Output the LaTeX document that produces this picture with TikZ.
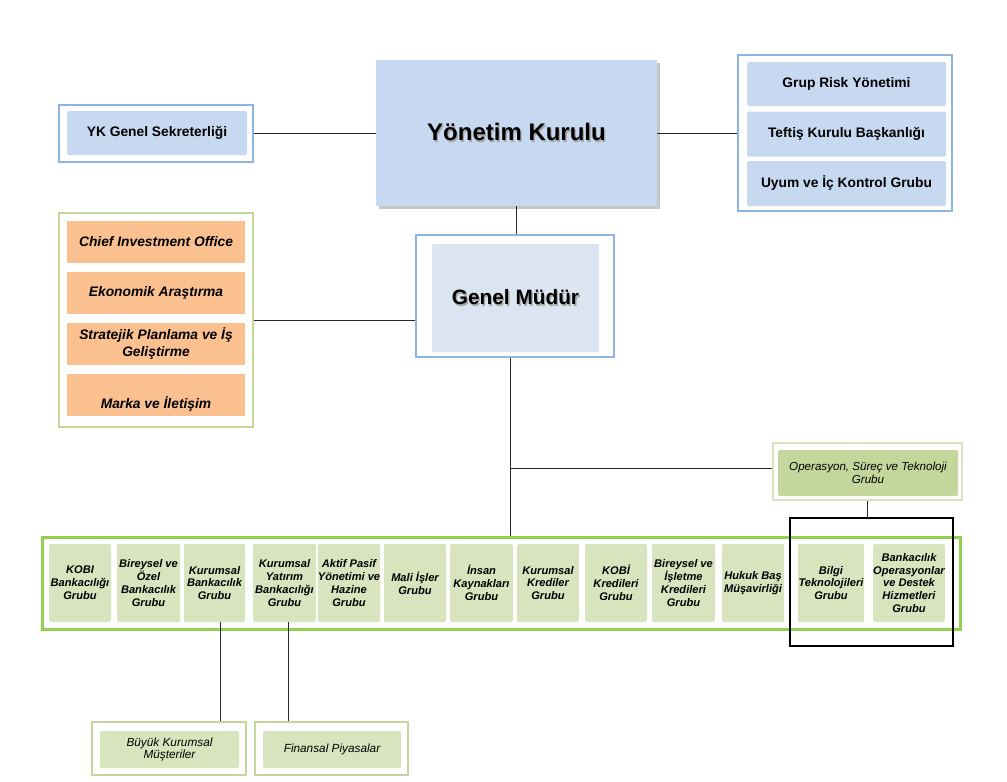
\documentclass[tikz,border=0pt]{standalone}
\usepackage{fontspec}
\setmainfont{Liberation Sans}
\usetikzlibrary{shadows}
\definecolor{bluefr}{HTML}{8DB4E2}
\definecolor{bluebx}{HTML}{C6D9F1}
\definecolor{bluelt}{HTML}{DBE5F1}
\definecolor{orng}{HTML}{FAC090}
\definecolor{grnfr}{HTML}{C3D69B}
\definecolor{grnbx}{HTML}{D7E4BD}
\definecolor{grnbig}{HTML}{92D050}
\definecolor{grnop}{HTML}{C3D69B}
\newcommand{\shadowed}[1]{\leavevmode\rlap{\kern1.3pt\raisebox{-1.3pt}{\textcolor{black!35}{#1}}}#1}
\tikzset{
  bfrm/.style={draw=bluefr, line width=2pt, fill=white, inner sep=0pt},
  gfrm/.style={draw=grnfr, line width=2.5pt, fill=white, inner sep=0pt},
  bbox/.style={fill=bluebx, rounded corners=1.5pt, inner sep=0pt, font=\fontsize{13.8}{16}\selectfont\bfseries, align=center},
  obox/.style={fill=orng, inner sep=0pt, font=\fontsize{13.8}{17}\selectfont\bfseries\itshape, align=center},
  rbox/.style={fill=grnbx, rounded corners=2pt, inner sep=0pt, minimum height=78pt, font=\fontsize{11.1}{12.9}\selectfont\bfseries\itshape, align=center},
  sbox/.style={fill=grnbx, rounded corners=2pt, inner sep=0pt, font=\fontsize{11.8}{12.5}\selectfont\itshape, align=center},
  conn/.style={draw=black!85, line width=1pt},
}
\begin{document}
\begin{tikzpicture}[x=1pt,y=-1pt]
\useasboundingbox (0,0) rectangle (1007,782);
% top level
\node[fill=bluebx, inner sep=0pt, minimum width=281pt, minimum height=146pt,
  drop shadow={shadow xshift=3pt, shadow yshift=-3pt, fill=black!50, opacity=0.45},
  font=\fontsize{24}{28}\selectfont\bfseries] (yk) at (516.5,133) {\shadowed{Yönetim Kurulu}};
% YK Genel Sekreterliği
\node[bfrm, minimum width=194pt, minimum height=57pt] (ykf) at (156,133) {};
\node[bbox, minimum width=180pt, minimum height=44pt] (ykg) at (157,133) {YK Genel Sekreterliği};
% right group
\node[bfrm, minimum width=214pt, minimum height=156pt] (rf) at (845,133) {};
\node[bbox, minimum width=199pt, minimum height=44pt] (r1) at (846.5,84) {Grup Risk Yönetimi};
\node[bbox, minimum width=199pt, minimum height=45pt] (r2) at (846.5,134) {Teftiş Kurulu Başkanlığı};
\node[bbox, minimum width=199pt, minimum height=45pt] (r3) at (846.5,183.5) {Uyum ve İç Kontrol Grubu};
% Genel Müdür
\node[bfrm, minimum width=198pt, minimum height=122pt] (gmf) at (515,296) {};
\node[fill=bluelt, rounded corners=1.5pt, inner sep=0pt, minimum width=167pt, minimum height=108pt,
  font=\fontsize{20.8}{24}\selectfont\bfseries] (gm) at (515.5,298) {\shadowed{Genel Müdür}};
% orange group
\node[gfrm, minimum width=194pt, minimum height=214pt] (of) at (156,320) {};
\node[obox, minimum width=178pt, minimum height=42pt] (o1) at (156,242) {Chief Investment Office};
\node[obox, minimum width=178pt, minimum height=42pt] (o2) at (156,293) {Ekonomik Araştırma};
\node[obox, minimum width=178pt, minimum height=42pt] (o3) at (156,344) {Stratejik Planlama ve İş\\Geliştirme};
\node[obox, minimum width=178pt, minimum height=42pt] (o4) at (156,395) {\smash{\raisebox{-13pt}{Marka ve İletişim}}};
% Operasyon
\node[draw=grnbx, line width=2.5pt, fill=white, inner sep=0pt, minimum width=189pt, minimum height=57pt] (opf) at (867.5,471.5) {};
\node[fill=grnop, rounded corners=1.5pt, inner sep=0pt, minimum width=180pt, minimum height=46pt,
  font=\fontsize{11.6}{12.5}\selectfont\itshape, align=center] (op) at (868,473) {Operasyon, Süreç ve Teknoloji\\Grubu};
% big row frame
\node[draw=grnbig, line width=3pt, fill=white, inner sep=0pt, minimum width=918pt, minimum height=92pt] (bf) at (501,583) {};
\node[rbox, minimum width=62pt] (g1) at (80,583) {KOBI\\Bankacılığı\\Grubu};
\node[rbox, minimum width=63pt] (g2) at (148.5,583) {Bireysel ve\\Özel\\Bankacılık\\Grubu};
\node[rbox, minimum width=61pt] (g3) at (214.5,583) {Kurumsal\\Bankacılık\\Grubu};
\node[rbox, minimum width=63pt] (g4) at (284.5,583) {Kurumsal\\Yatırım\\Bankacılığı\\Grubu};
\node[rbox, minimum width=62pt] (g5) at (349,583) {Aktif Pasif\\Yönetimi ve\\Hazine\\Grubu};
\node[rbox, minimum width=62pt] (g6) at (415,583) {Mali İşler\\Grubu};
\node[rbox, minimum width=63pt] (g7) at (481.5,583) {İnsan\\Kaynakları\\Grubu};
\node[rbox, minimum width=62pt] (g8) at (548,583) {Kurumsal\\Krediler\\Grubu};
\node[rbox, minimum width=62pt] (g9) at (616,583) {KOBİ\\Kredileri\\Grubu};
\node[rbox, minimum width=63pt] (g10) at (683.5,583) {Bireysel ve\\İşletme\\Kredileri\\Grubu};
\node[rbox, minimum width=62pt] (g11) at (753,583) {Hukuk Baş\\Müşavirliği};
\node[rbox, minimum width=66pt] (g12) at (831,583) {Bilgi\\Teknolojileri\\Grubu};
\node[rbox, minimum width=70pt] (g13) at (909,583) {Bankacılık\\Operasyonlar\\ve Destek\\Hizmetleri\\Grubu};
% black highlight box
\node[draw=black, line width=2pt, inner sep=0pt, minimum width=163pt, minimum height=128pt] (hl) at (871.5,582) {};
% bottom boxes
\node[gfrm, minimum width=154pt, minimum height=53pt] (bkf) at (169,748.5) {};
\node[sbox, minimum width=139pt, minimum height=37pt] (bk) at (169.5,749.5) {Büyük Kurumsal\\Müşteriler};
\node[gfrm, minimum width=153pt, minimum height=53pt] (fpf) at (331.5,748.5) {};
\node[sbox, minimum width=138pt, minimum height=37pt] (fp) at (332,749.5) {Finansal Piyasalar};
% connectors
\coordinate (trunk) at (510,468);
\coordinate (c3) at (220,0);
\coordinate (c4) at (288,0);
\draw[conn] (ykf.east) -- (yk.west);
\draw[conn] (yk.east) -- (rf.west);
\draw[conn] (yk.south) -- (yk.south |- gmf.north);
\draw[conn] (of.east) -- (of.east -| gmf.west);
\draw[conn] (trunk |- gmf.south) -- (trunk |- bf.north);
\draw[conn] (trunk) -- (trunk -| opf.west);
\draw[conn] (opf.south) -- (opf.south |- hl.north);
\draw[conn] (c3 |- g3.south) -- (c3 |- bkf.north);
\draw[conn] (c4 |- g4.south) -- (c4 |- fpf.north);
\end{tikzpicture}
\end{document}
